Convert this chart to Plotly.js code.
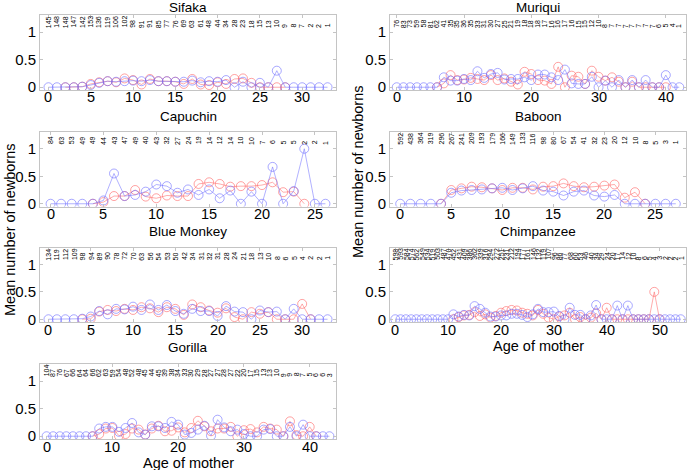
<!DOCTYPE html>
<html><head><meta charset="utf-8">
<script src="https://cdn.plot.ly/plotly-3.0.1.min.js"></script>
<style>body{margin:0;padding:0;background:#fff;} #chart{width:700px;height:470px;}</style>
</head><body><div id="chart"></div>
<script>
// ---- data: sample sizes (top numbers) and mean newborns per age of mother (index = age) ----
const sifakaN = [145,148,148,147,142,153,136,119,106,102,98,91,91,85,77,76,69,63,61,48,44,34,28,23,18,15,13,10,9,8,7,2,2,1];
const sifakaBlue = [0,0,0,0,0.01,0.04,0.08,0.11,0.10,0.11,0.12,0.11,0.13,0.11,0.11,0.10,0.10,0.12,0.09,0.11,0.10,0.13,0,0.10,0,0.08,0,0.30,0,0,0,0,0,0];
const sifakaRed = [null,null,0,0,0.01,0.06,0.09,0.11,0.09,0.16,0.13,0.05,0.15,0.11,0.11,0.10,0.06,0.15,0.05,0.04,0.09,0.06,0.15,0.16,0.08,0,0,0,0,null,null,null,null,null];

const muriquiN = [76,83,73,59,58,81,62,41,35,35,36,35,33,31,30,27,25,21,19,18,18,18,17,16,16,17,16,15,15,12,10,8,7,7,7,7,7,7,7,6,5,4,1];
const muriquiBlue = [0,0,0,0,0,0,0,0.18,0.12,0.12,0.15,0.13,0.29,0.17,0.24,0.26,0.14,0.15,0.15,0.18,0.13,0.23,0.23,0.18,0.13,0.32,0.07,0.06,0.06,0.19,0,0.12,0,0.13,0,0.13,0,0.13,0,0,0.22,0,0];
const muriquiRed = [null,null,null,null,null,null,0,0.07,0.22,0.13,0.14,0.17,0.15,0.13,0.22,0.13,0.16,0.10,0.05,0.28,0.24,0.13,0.12,0.06,0.37,0,0.21,0.19,0.06,0.30,0.19,0.12,0.18,0.10,0,0.10,0,0,0,0,0,null,null];

const capuchinN = [84,63,53,49,49,44,43,47,49,40,43,32,27,24,19,14,12,14,10,10,7,6,5,5,2,2,1];
const capuchinBlue = [0,0,0,0,0,0.06,0.55,0.14,0.16,0.22,0.35,0.32,0.20,0.26,0.16,0.26,0.10,0.24,0,0.22,0,0.67,0,0.23,1.0,0,0];
const capuchinRed = [null,null,null,null,0,0.03,0.14,0.14,0.25,0.13,0.10,0.15,0.14,0.14,0.36,0.39,0.36,0.31,0.32,0.32,0.34,0.39,0.21,0.22,0,null,null];

const baboonN = [592,438,364,319,296,267,241,209,193,179,166,149,133,116,98,80,67,54,41,32,23,20,12,10,8,5,3,1];
const baboonBlue = [0,0,0,0,0,0.20,0.24,0.25,0.26,0.28,0.29,0.25,0.28,0.32,0.24,0.22,0.15,0.22,0.24,0.15,0.13,0.16,0,0,0,0,0,0];
const baboonRed = [null,null,null,null,0,0.25,0.28,0.31,0.30,0.28,0.25,0.29,0.29,0.26,0.31,0.32,0.37,0.32,0.30,0.31,0.33,0.35,0.11,0.21,0,null,null,null];

const blueMonkeyN = [134,119,112,109,98,94,89,90,78,72,70,63,56,54,53,50,42,34,31,32,31,28,24,21,18,13,10,8,6,5,4,2,2,1];
const blueMonkeyBlue = [0,0,0,0,0.01,0.05,0.15,0.09,0.19,0.18,0.23,0.17,0.27,0.17,0.26,0.15,0.10,0.19,0.15,0.15,0.06,0.24,0.14,0.13,0,0.16,0.13,0.14,0,0.19,0,0,0,0];
const blueMonkeyRed = [null,null,null,null,0,0.01,0.14,0.17,0.15,0.19,0.17,0.22,0.20,0.13,0.22,0.19,0.08,0.27,0.22,0.16,0.12,0.20,0.04,0,0.13,0.10,0.13,0,0,0,0.28,0,null,null];

const chimpN = [598,593,584,574,562,549,534,519,503,487,470,452,431,409,386,362,339,316,294,272,251,231,212,194,177,161,146,132,119,107,96,86,77,68,60,53,46,40,34,29,24,20,17,14,12,10,8,6,5,4,3,2,2,2,1];
const chimpBlue = [0,0,0,0,0,0,0,0,0,0,0,0.09,0.05,0.08,0.07,0.24,0.19,0.12,0.05,0.05,0.07,0.07,0.10,0.10,0.08,0.04,0.09,0.19,0.13,0.13,0.14,0.06,0,0.21,0.08,0.08,0,0.07,0.26,0,0,0,0.25,0,0.25,0,0,0,0,0,0,0,0,0,0];
const chimpRed = [null,null,null,null,null,null,null,null,null,null,null,0,0.04,0.07,0.08,0.13,0.06,0.09,0.03,0.06,0.12,0.15,0.17,0.16,0.12,0.10,0.07,0.17,0.10,0.03,0,0.05,0.07,0.12,0,0.04,0,0.03,0.11,0,0.21,0,0,0,0,0,0,0,0,0.5,0,null,null,null,null];

const gorillaN = [104,87,76,67,66,64,64,66,62,63,59,54,48,52,48,45,44,45,39,38,34,33,30,29,28,27,27,28,27,22,20,17,15,13,13,10,9,9,8,7,5,6,6,3];
const gorillaBlue = [0,0,0,0,0,0,0,0,0.14,0.17,0.17,0.08,0.15,0.24,0.07,0.03,0.18,0.18,0.15,0.26,0.21,0.03,0.06,0.12,0.19,0.01,0.30,0.16,0.09,0.12,0.04,0,0,0.12,0.13,0,0,0.17,0,0.21,0,0,0,0];
const gorillaRed = [null,null,null,null,null,null,null,0,0.04,0.14,0.15,0.01,0.04,0.14,0.12,0.03,0.14,0.19,0.09,0.10,0.16,0.07,0.15,0.28,0.18,0.09,0.14,0.14,0.17,0,0.11,0.13,0.07,0.17,0.14,0.12,0,0.27,0.02,0,0.17,0,null,null];

const panelNames = ['Sifaka','Muriqui','Capuchin','Baboon','Blue Monkey','Chimpanzee','Gorilla'];
const xTicks5 = [0,5,10,15,20,25,30];
const xTicks10 = [0,10,20,30,40,50];
const yTickVals = [0,0.5,1];
const yTickText = ['0','0.5','1'];
const xLabel = 'Age of mother';
const yLabel = 'Mean number of newborns';

// ---- layout geometry ----
const W = 700, H = 470;
const colPx = [[40,336],[390,686]];
const rowPx = [[15,90],[131.7,206.5],[247.5,322],[364,439]];
const titlePx = [7.5,117,231,347];
const FONT = 'Liberation Sans, Arial, Helvetica, sans-serif';

const panels = [
  {name:panelNames[0], n:sifakaN, b:sifakaBlue, r:sifakaRed, col:0, row:0, tk:xTicks5},
  {name:panelNames[1], n:muriquiN, b:muriquiBlue, r:muriquiRed, col:1, row:0, tk:xTicks10},
  {name:panelNames[2], n:capuchinN, b:capuchinBlue, r:capuchinRed, col:0, row:1, tk:xTicks5},
  {name:panelNames[3], n:baboonN, b:baboonBlue, r:baboonRed, col:1, row:1, tk:xTicks5},
  {name:panelNames[4], n:blueMonkeyN, b:blueMonkeyBlue, r:blueMonkeyRed, col:0, row:2, tk:xTicks5},
  {name:panelNames[5], n:chimpN, b:chimpBlue, r:chimpRed, col:1, row:2, tk:xTicks10, xl:true},
  {name:panelNames[6], n:gorillaN, b:gorillaBlue, r:gorillaRed, col:0, row:3, tk:xTicks10, xl:true}
];

const BLUE = 'rgba(110,110,255,0.6)';
const RED = 'rgba(255,100,100,0.6)';
const BOX = '#c4c4c4';

const traces = [];
const layout = {
  width: W, height: H, margin:{l:0,r:0,t:0,b:0},
  paper_bgcolor:'#fff', plot_bgcolor:'#fff', showlegend:false,
  font:{family:FONT, color:'#000'},
  annotations: []
};

panels.forEach((p, i) => {
  const k = i + 1;
  const sfx = k === 1 ? '' : String(k);
  const ages = p.n.map((_, j) => j);
  const N = ages.length - 1;
  const ticks = p.tk.filter(t => t <= N);
  const xd = [colPx[p.col][0]/W, colPx[p.col][1]/W];
  const yd = [1 - rowPx[p.row][1]/H, 1 - rowPx[p.row][0]/H];
  layout['xaxis'+sfx] = {
    domain: xd, range: [-1, N + 1], anchor: 'y'+sfx, tickvals: ticks,
    showline: true, mirror: 'ticks', linecolor: BOX, linewidth: 1,
    ticks: 'inside', ticklen: 3, tickcolor: BOX, showgrid: false, zeroline: false,
    showticklabels: false
  };
  layout['yaxis'+sfx] = {
    domain: yd, range: [-0.05, 1.31], anchor: 'x'+sfx,
    tickvals: yTickVals, ticktext: yTickText,
    showline: true, mirror: 'ticks', linecolor: BOX, linewidth: 1,
    ticks: 'inside', ticklen: 3, tickcolor: BOX, showgrid: false, zeroline: false,
    tickfont: {size: 15, family: FONT, color: '#000'}
  };
  const common = {xaxis: 'x'+sfx, yaxis: 'y'+sfx, type: 'scatter', mode: 'lines+markers', hoverinfo: 'skip', connectgaps: false};
  traces.push(Object.assign({}, common, {x: ages, y: p.r,
    line: {color: RED, width: 0.9},
    marker: {symbol: 'circle-open', size: 9, color: RED, line: {width: 1, color: RED}}}));
  traces.push(Object.assign({}, common, {x: ages, y: p.b,
    line: {color: BLUE, width: 0.9},
    marker: {symbol: 'circle-open', size: 9, color: BLUE, line: {width: 1, color: BLUE}}}));
  // x tick labels (placed tight under the axis like the reference)
  ticks.forEach(t => {
    layout.annotations.push({xref: 'x'+sfx, yref: 'paper', x: t, y: 1 - (rowPx[p.row][1] + 7.5)/H,
      text: String(t), xanchor: 'center', yanchor: 'middle', showarrow: false, borderpad: 0,
      font: {size: 14.5, family: FONT, color: '#000'}});
  });
  // sample sizes
  p.n.forEach((v, j) => {
    layout.annotations.push({xref: 'x'+sfx, yref: 'y'+sfx, x: ages[j], y: 1.06,
      text: String(v), textangle: -90, xanchor: 'center', yanchor: 'bottom',
      showarrow: false, borderpad: 0, font: {size: 7, family: FONT, color: '#000'}});
  });
  // panel title
  const cx = (colPx[p.col][0] + colPx[p.col][1]) / 2 / W;
  layout.annotations.push({xref: 'paper', yref: 'paper', x: cx, y: 1 - titlePx[p.row]/H,
    text: p.name, xanchor: 'center', yanchor: 'middle', showarrow: false,
    font: {size: 13.5, family: FONT, color: '#000'}});
  if (p.xl) {
    layout.annotations.push({xref: 'paper', yref: 'paper', x: cx, y: 1 - (rowPx[p.row][1] + 24)/H,
      text: xLabel, xanchor: 'center', yanchor: 'middle', showarrow: false,
      font: {size: 14.5, family: FONT, color: '#000'}});
  }
});

// y-axis labels
layout.annotations.push({xref:'paper', yref:'paper', x: 10/W, y: 1 - 230/H, text: yLabel, textangle: -90,
  xanchor:'center', yanchor:'middle', showarrow:false, font:{size:14.5, family:FONT, color:'#000'}});
layout.annotations.push({xref:'paper', yref:'paper', x: 358/W, y: 1 - 172/H, text: yLabel, textangle: -90,
  xanchor:'center', yanchor:'middle', showarrow:false, font:{size:14.5, family:FONT, color:'#000'}});

Plotly.newPlot('chart', traces, layout, {staticPlot: true, displayModeBar: false});
</script>
</body></html>
